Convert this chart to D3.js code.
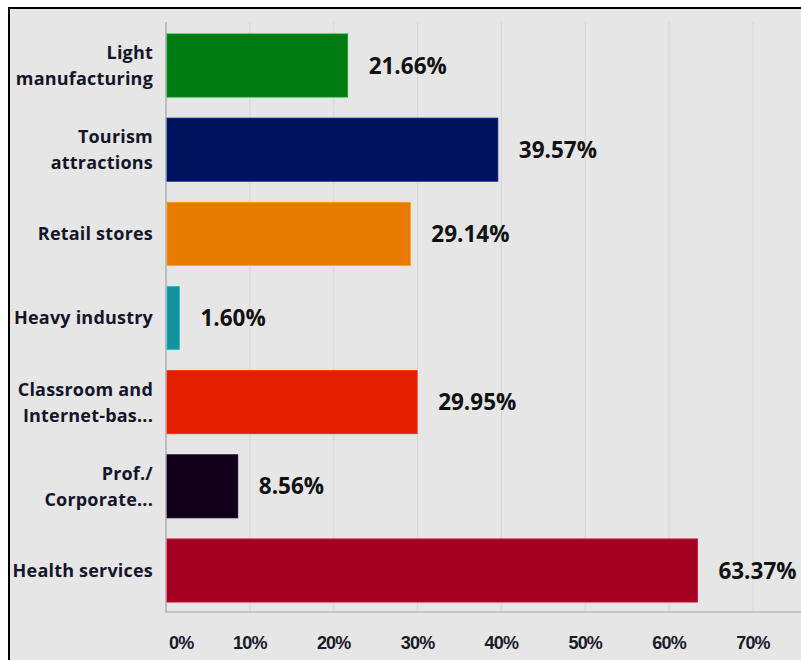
<!DOCTYPE html>
<html>
<head>
<meta charset="utf-8">
<script src="https://cdn.jsdelivr.net/npm/d3@7"></script>
<style>
  html, body { margin: 0; padding: 0; background: #ffffff; }
  svg { display: block; }
</style>
</head>
<body>
<svg id="chart" width="801" height="660"></svg>
<script>
// Share of respondents by sector
const categories = [
  ["Light", "manufacturing"],
  ["Tourism", "attractions"],
  ["Retail stores"],
  ["Heavy industry"],
  ["Classroom and", "Internet-bas..."],
  ["Prof./", "Corporate..."],
  ["Health services"]
];
const values = [21.66, 39.57, 29.14, 1.60, 29.95, 8.56, 63.37];
const colors = ["#007a12", "#02135e", "#e77a00", "#12939f", "#e41e00", "#10001c", "#a40021"];
const tickValues = [0, 10, 20, 30, 40, 50, 60, 70];

const svg = d3.select("#chart");
const W = 801, H = 660;

// framed panel
svg.append("rect").attr("x", 0).attr("y", 0).attr("width", W).attr("height", H).attr("fill", "#ffffff");
svg.append("rect").attr("x", 9).attr("y", 8).attr("width", W + 10).attr("height", H + 10)
  .attr("fill", "#e6e6e6").attr("stroke", "#000000").attr("stroke-width", 2);

const x = d3.scaleLinear().domain([0, 70]).range([166, 753]);
const idx = d3.range(categories.length);
const y = d3.scaleBand().domain(idx).range([23, 613]).paddingInner(0.25).paddingOuter(0.13);

// vertical gridlines
svg.append("g").selectAll("line").data(tickValues.slice(1)).join("line")
  .attr("x1", d => x(d)).attr("x2", d => x(d))
  .attr("y1", 22).attr("y2", 612)
  .attr("stroke", "#d7d7d7").attr("stroke-width", 1);

// axis lines
svg.append("line").attr("x1", x(0)).attr("x2", W).attr("y1", 612).attr("y2", 612)
  .attr("stroke", "#c4c4c4").attr("stroke-width", 2);
svg.append("line").attr("x1", x(0)).attr("x2", x(0)).attr("y1", 22).attr("y2", 613)
  .attr("stroke", "#bdbdbd").attr("stroke-width", 2);

// bars
svg.append("g").selectAll("rect").data(idx).join("rect")
  .attr("x", x(0) + 1)
  .attr("y", i => y(i))
  .attr("width", i => x(values[i]) - x(0) - 1)
  .attr("height", y.bandwidth())
  .attr("fill", i => colors[i])
  .attr("stroke", i => d3.color(colors[i]).brighter(0.8))
  .attr("stroke-width", 0.8);

// value labels
svg.append("g").selectAll("text").data(idx).join("text")
  .attr("x", i => x(values[i]) + 21)
  .attr("y", i => y(i) + y.bandwidth() / 2)
  .attr("dy", "0.36em")
  .attr("font-family", "'Open Sans', sans-serif")
  .attr("font-weight", 700)
  .attr("font-size", 22.5)
  .attr("fill", "#111111")
  .text(i => values[i].toFixed(2) + "%");

// category labels
const catG = svg.append("g");
idx.forEach(i => {
  const lines = categories[i];
  const cy = y(i) + y.bandwidth() / 2;
  const lh = 26;
  const t = catG.append("text")
    .attr("text-anchor", "end")
    .attr("font-family", "'Open Sans', sans-serif")
    .attr("font-weight", 700)
    .attr("font-size", 18)
    .attr("letter-spacing", 0.2)
    .attr("fill", "#15152a");
  lines.forEach((ln, k) => {
    t.append("tspan")
      .attr("x", 153)
      .attr("y", cy + (k - (lines.length - 1) / 2) * lh)
      .attr("dy", "0.36em")
      .text(ln);
  });
});

// x tick labels
svg.append("g").selectAll("text").data(tickValues).join("text")
  .attr("x", d => d === 0 ? x(d) + 3 : x(d))
  .attr("y", 643)
  .attr("dy", "0.36em")
  .attr("text-anchor", d => d === 0 ? "start" : "middle")
  .attr("font-family", "'Liberation Sans', Arial, sans-serif")
  .attr("font-weight", 700)
  .attr("font-size", 18)
  .attr("letter-spacing", -0.8)
  .attr("fill", "#1a1a2a")
  .text(d => d + "%");
</script>
</body>
</html>
